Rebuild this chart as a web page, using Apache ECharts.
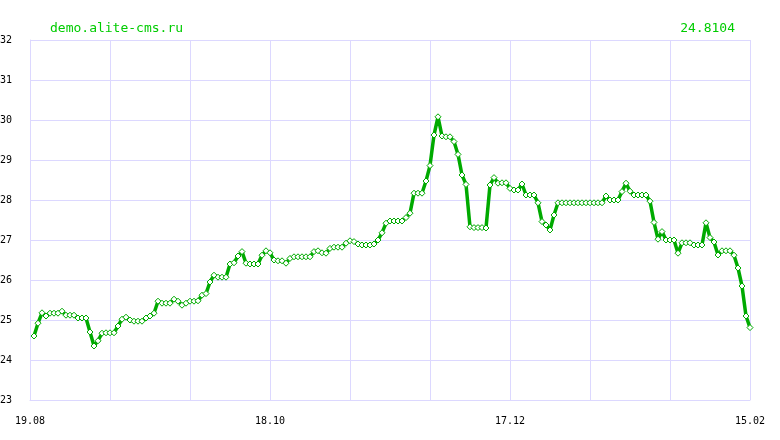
<!DOCTYPE html>
<html>
<head>
<meta charset="utf-8">
<script src="https://cdn.jsdelivr.net/npm/echarts@6/dist/echarts.min.js"></script>
<style>
html,body{margin:0;padding:0;background:#fff;}
#chart{width:780px;height:440px;}
</style>
</head>
<body>
<div id="chart"></div>
<script>
// Axis start date (19.08) and span in days
const startDay = {year: 2014, month: 8, day: 19};
const spanDays = 180;
const tickLabels = ["19.08", "18.10", "17.12", "15.02"];
const yTicks = [23, 24, 25, 26, 27, 28, 29, 30, 31, 32];
const siteTitle = "demo.alite-cms.ru";
const lastValueText = "24.8104";

// Daily values from 20.08 to 15.02
const values = [
  24.6, 24.92, 25.18, 25.1, 25.17, 25.17, 25.17, 25.22, 25.12, 25.12,
  25.12, 25.05, 25.05, 25.05, 24.7, 24.35, 24.48, 24.67, 24.68, 24.68,
  24.68, 24.85, 25.02, 25.07, 25.0, 24.97, 24.97, 24.97, 25.05, 25.1,
  25.17, 25.47, 25.42, 25.42, 25.42, 25.52, 25.47, 25.37, 25.42, 25.47,
  25.47, 25.48, 25.62, 25.66, 25.95, 26.12, 26.07, 26.07, 26.07, 26.4,
  26.43, 26.6, 26.71, 26.42, 26.4, 26.4, 26.4, 26.62, 26.73, 26.68,
  26.5, 26.48, 26.48, 26.42, 26.54, 26.58, 26.58, 26.58, 26.58, 26.58,
  26.71, 26.73, 26.68, 26.67, 26.79, 26.82, 26.82, 26.82, 26.92, 26.98,
  26.96, 26.9, 26.875, 26.875, 26.875, 26.9, 27.0, 27.18, 27.42, 27.475,
  27.475, 27.475, 27.475, 27.56, 27.67, 28.17, 28.17, 28.17, 28.475, 28.86,
  29.625, 30.08, 29.6, 29.58, 29.58, 29.46, 29.14, 28.625, 28.39, 27.33,
  27.31, 27.31, 27.31, 27.3, 28.375, 28.56, 28.42, 28.43, 28.43, 28.29,
  28.25, 28.25, 28.4, 28.125, 28.125, 28.125, 27.93, 27.46, 27.375, 27.25,
  27.625, 27.93, 27.93, 27.93, 27.93, 27.93, 27.93, 27.93, 27.93, 27.93,
  27.93, 27.93, 27.93, 28.1, 28.0, 28.0, 28.0, 28.21, 28.42, 28.22,
  28.125, 28.125, 28.125, 28.125, 27.97, 27.44, 27.02, 27.21, 27.0, 27.0,
  27.0, 26.67, 26.93, 26.93, 26.93, 26.875, 26.875, 26.875, 27.43, 27.06,
  26.95, 26.625, 26.73, 26.73, 26.73, 26.62, 26.3, 25.85, 25.1, 24.8104
];

// Build the day categories (dd.mm)
const dates = [];
for (let k = 0; k <= spanDays; k++) {
  const d = new Date(Date.UTC(startDay.year, startDay.month - 1, startDay.day + k));
  const dd = String(d.getUTCDate()).padStart(2, '0');
  const mm = String(d.getUTCMonth() + 1).padStart(2, '0');
  dates.push(dd + '.' + mm);
}
const seriesData = values.map((v, k) => [dates[k + 1], v]);

const GREEN = '#00aa00';
const GRID = '#dcd8ff';
const MONO = '"DejaVu Sans Mono", "Liberation Mono", monospace';

const chart = echarts.init(document.getElementById('chart'), null, {renderer: 'canvas'});
chart.setOption({
  animation: false,
  backgroundColor: '#ffffff',
  title: [
    {text: siteTitle, left: 50, top: 22, padding: 0, textStyle: {color: '#00cc00', fontFamily: MONO, fontSize: 13, fontWeight: 'normal'}},
    {text: lastValueText, right: 45, top: 22, padding: 0, textStyle: {color: '#00cc00', fontFamily: MONO, fontSize: 13, fontWeight: 'normal'}}
  ],
  grid: {left: 30, right: 30, top: 40, bottom: 40, containLabel: false, outerBoundsMode: 'none'},
  xAxis: {
    type: 'category',
    data: dates,
    boundaryGap: false,
    axisLine: {show: true, lineStyle: {color: GRID, width: 1}},
    axisTick: {show: false},
    axisLabel: {
      interval: (idx, val) => tickLabels.includes(val),
      color: '#000', fontFamily: MONO, fontSize: 10, margin: 16
    },
    splitLine: {show: true, interval: (idx) => idx % 20 === 0, lineStyle: {color: GRID, width: 1}}
  },
  yAxis: {
    type: 'value',
    min: yTicks[0], max: yTicks[yTicks.length - 1], interval: 1,
    axisLine: {show: true, lineStyle: {color: GRID, width: 1}},
    axisTick: {show: false},
    axisLabel: {color: '#000', fontFamily: MONO, fontSize: 10, margin: 18, padding: [5, 0, 0, 0]},
    splitLine: {show: true, lineStyle: {color: GRID, width: 1}}
  },
  series: [{
    type: 'line',
    data: seriesData,
    symbol: 'diamond',
    symbolSize: 6,
    showAllSymbol: true,
    lineStyle: {color: GREEN, width: 3.5},
    itemStyle: {color: '#ffffff', borderColor: GREEN, borderWidth: 1},
    emphasis: {disabled: true}
  }]
});
</script>
</body>
</html>
